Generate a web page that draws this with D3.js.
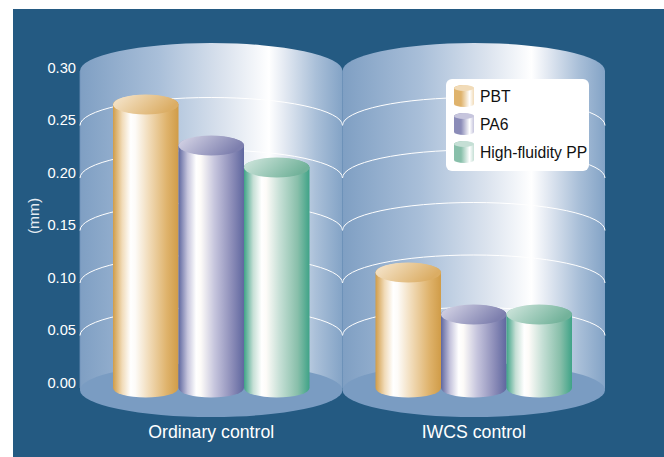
<!DOCTYPE html>
<html>
<head>
<meta charset="utf-8">
<script src="https://cdn.jsdelivr.net/npm/d3@7"></script>
<style>
  html, body { margin: 0; padding: 0; background: #fff; }
  svg { display: block; font-family: "Liberation Sans", sans-serif; }
</style>
</head>
<body>
<svg width="664" height="457"></svg>
<script>
const groups = ["Ordinary control", "IWCS control"];
const materials = ["PBT", "PA6", "High-fluidity PP"];
const pbt_values = [0.27, 0.11];
const pa6_values = [0.231, 0.07];
const pp_values = [0.21, 0.07];
const y_ticks = [0, 0.05, 0.1, 0.15, 0.2, 0.25, 0.3];
const y_label = "(mm)";

// edge, light, mid for each material
const material_colors = [
  ["#d09c48", "#f1dbb8", "#dfb36c"],
  ["#5f679f", "#c6c5dd", "#8b8cb8"],
  ["#3fa387", "#c5dfd5", "#88bfaa"]
];
// cap colours, left and right
const cap_colors = [
  ["#f7e9d3", "#dbad64"],
  ["#dad9e9", "#7d7fae"],
  ["#d4e8e0", "#72b29a"]
];
const series = [pbt_values, pa6_values, pp_values];

const svg = d3.select("svg");
const defs = svg.append("defs");

const x_group = d3.scaleBand().domain(groups).range([80, 605]).padding(0);
const y_scale = d3.scaleLinear().domain([0, 0.3]).range([388, 73]);

const wall_ry = 28;
const bar_ry = 9.5;

function hGradient(id, stops) {
  const g = defs.append("linearGradient").attr("id", id);
  stops.forEach(s => g.append("stop").attr("offset", s[0]).attr("stop-color", s[1]));
  return g;
}

hGradient("wall", [[0, "#7f9fc3"], [0.3, "#a9bfd9"], [0.55, "#dbe3ee"], [0.68, "#f6f8fb"], [0.72, "#ffffff"], [0.78, "#e3e9f2"], [0.9, "#a9bfd8"], [1, "#83a3c6"]]);

material_colors.forEach((c, i) => {
  hGradient(`body${i}`, [[0, c[0]], [0.14, c[1]], [0.27, "#ffffff"], [0.34, "#fdfbf8"], [0.55, c[1]], [0.82, c[2]], [1, c[0]]]);
  hGradient(`cap${i}`, [[0, cap_colors[i][0]], [1, cap_colors[i][1]]])
    .attr("x1", 0).attr("y1", 0).attr("x2", 1).attr("y2", 0.35);
  hGradient(`icon${i}`, [[0, c[2]], [0.35, c[2]], [0.78, "#ffffff"], [1, c[1]]]);
});

svg.append("rect").attr("x", 13).attr("y", 9).attr("width", 651).attr("height", 448).attr("fill", "#245a82");

// path of one upright cylinder side, closed with arcs at both ends
function cylinderPath(x0, x1, top, bottom, ry) {
  const rx = (x1 - x0) / 2;
  return `M${x0},${top} A${rx},${ry} 0 0 1 ${x1},${top} L${x1},${bottom} A${rx},${ry} 0 0 1 ${x0},${bottom} Z`;
}

groups.forEach((group, gi) => {
  const x0 = x_group(group);
  const x1 = x0 + x_group.bandwidth();
  const cx = (x0 + x1) / 2;
  const rx = x_group.bandwidth() / 2;
  const g = svg.append("g");

  g.append("path")
    .attr("d", cylinderPath(x0, x1, y_scale(0.3) - 2, y_scale(0), wall_ry))
    .attr("fill", "url(#wall)");

  g.append("ellipse")
    .attr("cx", cx).attr("cy", y_scale(0) + 2)
    .attr("rx", rx).attr("ry", wall_ry - 1)
    .attr("fill", "#7a9cc2");

  g.append("line")
    .attr("x1", x0).attr("x2", x0)
    .attr("y1", y_scale(0.3) - 2).attr("y2", y_scale(0))
    .attr("stroke", "#6f93ba").attr("stroke-width", 0.8);

  g.selectAll(".grid")
    .data(y_ticks.filter(d => d > 0 && d < 0.3))
    .enter().append("path")
    .attr("class", "grid")
    .attr("d", d => `M${x0},${y_scale(d)} A${rx},${wall_ry} 0 0 1 ${x1},${y_scale(d)}`)
    .attr("fill", "none")
    .attr("stroke", "#fff")
    .attr("stroke-width", 1);

  const x_bar = d3.scaleBand().domain(materials).range([x0 + 33, x1 - 33]);

  materials.forEach((m, i) => {
    const top = y_scale(series[i][gi]);
    const bx0 = x_bar(m), bx1 = bx0 + x_bar.bandwidth();
    g.append("path")
      .attr("d", cylinderPath(bx0, bx1, top, y_scale(0), bar_ry))
      .attr("fill", `url(#body${i})`);
    g.append("ellipse")
      .attr("cx", (bx0 + bx1) / 2).attr("cy", top)
      .attr("rx", x_bar.bandwidth() / 2).attr("ry", bar_ry + 0.5)
      .attr("fill", `url(#cap${i})`);
  });

  svg.append("text")
    .attr("x", cx).attr("y", 438)
    .attr("text-anchor", "middle")
    .attr("fill", "#fff")
    .style("font-size", "17.7px")
    .style("-webkit-text-stroke", "0.2px #fff")
    .text(group);
});

const y_axis = d3.axisLeft(y_scale)
  .tickValues(y_ticks)
  .tickFormat(d3.format(".2f"))
  .tickSize(0)
  .tickPadding(0);

const axis_g = svg.append("g")
  .attr("transform", "translate(76,-5.5)")
  .call(y_axis);
axis_g.select(".domain").remove();
axis_g.selectAll("text")
  .attr("fill", "#fff")
  .style("font-size", "14.7px")
  .style("font-family", "'Liberation Sans', sans-serif");

svg.append("text")
  .attr("transform", "translate(39,216) rotate(-90)")
  .attr("text-anchor", "middle")
  .attr("fill", "#e4ebf2")
  .style("font-size", "15.5px")
  .text(y_label);

// legend
const legend = svg.append("g");
legend.append("rect")
  .attr("x", 446).attr("y", 79)
  .attr("width", 143).attr("height", 92)
  .attr("rx", 6)
  .attr("fill", "#fff");

const legend_y = d3.scalePoint().domain(materials).range([96, 152]);
materials.forEach((m, i) => {
  const y = legend_y(m);
  legend.append("path")
    .attr("d", cylinderPath(454, 474, y - 8, y + 8, 3))
    .attr("fill", `url(#icon${i})`);
  legend.append("ellipse")
    .attr("cx", 464).attr("cy", y - 8)
    .attr("rx", 10).attr("ry", 3)
    .attr("fill", material_colors[i][1]);
  legend.append("text")
    .attr("x", 480).attr("y", y + 6)
    .attr("fill", "#111")
    .style("font-size", "15.7px")
    .style("-webkit-text-stroke", "0.2px #111")
    .text(m);
});
</script>
</body>
</html>
